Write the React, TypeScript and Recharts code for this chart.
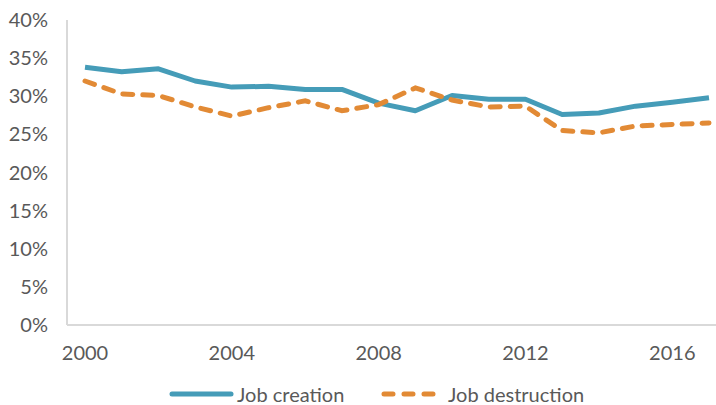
import React from "react";
import { LineChart, Line, XAxis, YAxis, Legend } from "recharts";

const years = [
  "2000", "2001", "2002", "2003", "2004", "2005", "2006", "2007", "2008",
  "2009", "2010", "2011", "2012", "2013", "2014", "2015", "2016", "2017",
];
const jobCreation = [
  33.8, 33.2, 33.6, 32.0, 31.2, 31.3, 30.9, 30.9, 29.1,
  28.1, 30.1, 29.6, 29.6, 27.6, 27.8, 28.7, 29.2, 29.8,
];
const jobDestruction = [
  32.0, 30.3, 30.1, 28.6, 27.4, 28.5, 29.4, 28.1, 28.9,
  31.1, 29.5, 28.6, 28.7, 25.5, 25.2, 26.1, 26.3, 26.5,
];
const yTicks = [0, 5, 10, 15, 20, 25, 30, 35, 40];
const xTicks = ["2000", "2004", "2008", "2012", "2016"];

const data = years.map((y, i) => ({
  year: y,
  creation: jobCreation[i],
  destruction: jobDestruction[i],
}));

const BLUE = "#459cb8";
const ORANGE = "#e28a35";
const TEXT = "#595959";
const AXIS = "#d9d9d9";
const FONT = "Lato, 'Open Sans', sans-serif";

// legend laid out like the original: line samples then labels
function LegendContent() {
  const item: React.CSSProperties = { position: "absolute", top: 0, height: 28, display: "flex", alignItems: "center", lineHeight: "20px" };
  return (
    <div style={{ position: "relative", height: 28, fontFamily: FONT, fontSize: 20, color: TEXT }}>
      <div style={{ ...item, left: 169 }}>
        <svg width={66} height={10}>
          <line x1={3} y1={5} x2={62} y2={5} stroke={BLUE} strokeWidth={5} strokeLinecap="round" />
        </svg>
      </div>
      <div style={{ ...item, left: 237 }}>Job creation</div>
      <div style={{ ...item, left: 379 }}>
        <svg width={60} height={10}>
          <line
            x1={5}
            y1={5}
            x2={55}
            y2={5}
            stroke={ORANGE}
            strokeWidth={5}
            strokeLinecap="round"
            strokeDasharray="9 11"
          />
        </svg>
      </div>
      <div style={{ ...item, left: 448 }}>Job destruction</div>
    </div>
  );
}

export default function App() {
  return (
    <div style={{ width: 716, height: 405, overflow: "hidden", background: "#fff" }}>
      <style>{`body { margin: 0; }`}</style>
      <LineChart
        width={728}
        height={405}
        data={data}
        margin={{ top: 20, right: 1, left: 0, bottom: 12 }}
      >
        <XAxis
          dataKey="year"
          ticks={xTicks}
          interval={0}
          padding={{ left: 18, right: 18 }}
          tickLine={false}
          tickMargin={15}
          height={40}
          stroke={AXIS}
          strokeWidth={2}
          tick={{ fill: TEXT, fontSize: 20, fontFamily: FONT }}
        />
        <YAxis
          domain={[0, 40]}
          ticks={yTicks}
          interval={0}
          width={67}
          tickLine={false}
          tickMargin={13}
          stroke={AXIS}
          strokeWidth={2}
          tickFormatter={(v) => `${v}%`}
          tick={{ fill: TEXT, fontSize: 20, fontFamily: FONT }}
        />
        <Legend
          verticalAlign="bottom"
          wrapperStyle={{ top: 380, left: 0, bottom: "auto", width: 716, height: 28 }}
          content={<LegendContent />}
        />
        <Line
          dataKey="creation"
          name="Job creation"
          stroke={BLUE}
          strokeWidth={5}
          dot={false}
          strokeLinejoin="round"
          isAnimationActive={false}
        />
        <Line
          dataKey="destruction"
          name="Job destruction"
          stroke={ORANGE}
          strokeWidth={5}
          strokeDasharray="10 10"
          strokeLinecap="round"
          dot={false}
          isAnimationActive={false}
        />
      </LineChart>
    </div>
  );
}
